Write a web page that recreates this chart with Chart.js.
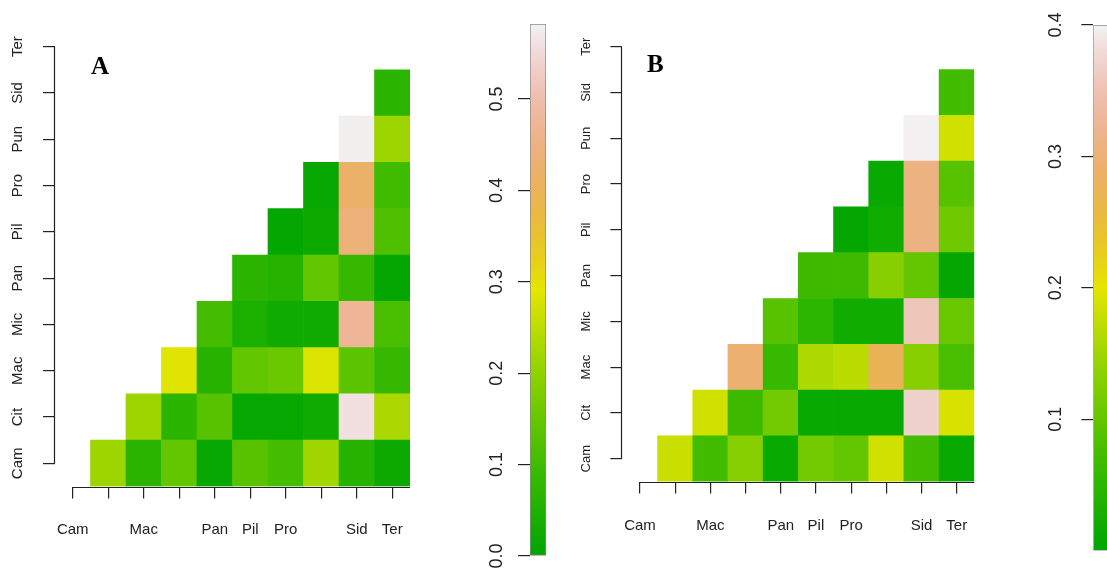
<!DOCTYPE html>
<html>
<head>
<meta charset="utf-8">
<script src="https://cdn.jsdelivr.net/npm/chart.js@4"></script>
<style>
  html, body { margin: 0; padding: 0; background: #fff; overflow: hidden; width: 1107px; height: 569px; }
  canvas { position: absolute; top: 0; }
  .tag { position: absolute; font-family: "Liberation Serif", "Times New Roman", serif; font-weight: bold; font-size: 25px; color: #000; }
</style>
</head>
<body>
<canvas id="heatA" width="420" height="569" style="left:0px"></canvas>
<canvas id="barA" width="86" height="569" style="left:460px"></canvas>
<canvas id="heatB" width="420" height="569" style="left:560px"></canvas>
<canvas id="barB" width="116" height="569" style="left:1000px"></canvas>
<div class="tag" style="left:91px; top:52px">A</div>
<div class="tag" style="left:647px; top:50px">B</div>
<script>
// species, bottom-to-top on y, left-to-right on x
const species = ['Cam', 'Cit', 'Mac', 'Mic', 'Pan', 'Pil', 'Pro', 'Pun', 'Sid', 'Ter'];
// R drops overlapping x labels
const xTickLabels = ['Cam', '', 'Mac', '', 'Pan', 'Pil', 'Pro', '', 'Sid', 'Ter'];

// pairwise distances, row j holds columns j+1 .. 9 (upper triangle)
const distA = [
  [0.215, 0.07, 0.145, 0.01, 0.13, 0.105, 0.22, 0.06, 0.02],
  [0.215, 0.07, 0.13, 0.01, 0.01, 0.025, 0.56, 0.23],
  [0.285, 0.06, 0.145, 0.155, 0.28, 0.135, 0.085],
  [0.105, 0.045, 0.025, 0.025, 0.475, 0.11],
  [0.07, 0.06, 0.145, 0.085, 0.005],
  [0.005, 0.02, 0.44, 0.12],
  [0.01, 0.42, 0.1],
  [0.578, 0.215],
  [0.07]
];
const distB = [
  [0.18, 0.07, 0.13, 0.01, 0.115, 0.1, 0.185, 0.07, 0.01],
  [0.185, 0.065, 0.115, 0.01, 0.01, 0.01, 0.37, 0.19],
  [0.295, 0.06, 0.16, 0.17, 0.275, 0.13, 0.075],
  [0.09, 0.05, 0.02, 0.02, 0.355, 0.105],
  [0.065, 0.065, 0.13, 0.1, 0.005],
  [0.005, 0.02, 0.31, 0.11],
  [0.01, 0.31, 0.09],
  [0.398, 0.185],
  [0.07]
];

const maxA = 0.582;
const maxB = 0.4;
const barTicksA = [0, 0.1, 0.2, 0.3, 0.4, 0.5];
const barTicksB = [0.1, 0.2, 0.3, 0.4];

// R terrain.colors, t in [0, 1]
function terrain(t) {
  t = Math.max(0, Math.min(1, t));
  let h, s, v;
  if (t < 0.5) { const u = t * 2; h = 120 - 60 * u; s = 1; v = 0.65 + 0.25 * u; }
  else { const u = t * 2 - 1; h = 60 - 60 * u; s = 1 - u; v = 0.9 + 0.05 * u; }
  const f = (n) => {
    const k = (n + h / 60) % 6;
    return Math.round(255 * (v - v * s * Math.max(0, Math.min(k, 4 - k, 1))));
  };
  return `rgb(${f(5)},${f(3)},${f(1)})`;
}

// keep label overhang from shrinking the plot area
const noPad = (s) => { s.paddingLeft = 0; s.paddingRight = 0; s.paddingTop = 0; s.paddingBottom = 0; };

// R style axis lines: y from first to last tick, x from first tick to the edge
const rAxisLines = {
  id: 'rAxisLines',
  afterDraw(chart) {
    const { ctx, chartArea, scales: { x, y } } = chart;
    ctx.save();
    ctx.strokeStyle = '#222';
    ctx.lineWidth = 1.2;
    ctx.beginPath();
    const xl = Math.round(chartArea.left) - 0.5;
    ctx.moveTo(xl, y.getPixelForValue(0));
    ctx.lineTo(xl, y.getPixelForValue(species.length - 1));
    const yb = Math.round(chartArea.bottom) + 0.5;
    ctx.moveTo(x.getPixelForValue(0), yb);
    ctx.lineTo(chartArea.right, yb);
    ctx.stroke();
    ctx.restore();
  }
};

function heatmap(id, dist, max, o) {
  const datasets = dist.map((row, j) => ({
    data: species.map((_, i) => i > j ? [j - 0.5, j + 0.5] : null),
    backgroundColor: species.map((_, i) => i > j ? terrain(row[i - j - 1] / max) : 'transparent'),
    borderWidth: 0,
    barPercentage: 1,
    categoryPercentage: 1,
    grouped: false
  }));
  const tickGrid = { drawOnChartArea: false, offset: false, color: '#222', lineWidth: 1.2, tickLength: 12 };
  new Chart(document.getElementById(id), {
    type: 'bar',
    data: { labels: species, datasets },
    plugins: [rAxisLines],
    options: {
      responsive: false,
      animation: false,
      events: [],
      layout: { padding: { top: o.top, right: o.right, left: 0, bottom: 0 } },
      plugins: { legend: { display: false }, tooltip: { enabled: false } },
      scales: {
        x: {
          type: 'category',
          offset: true,
          grid: tickGrid,
          border: { display: false },
          ticks: {
            autoSkip: false, maxRotation: 0, padding: o.xPad, color: '#222',
            font: { family: 'Liberation Sans, Arial', size: o.xFont },
            callback: (v, i) => xTickLabels[i]
          },
          afterFit: (s) => { s.height = o.xHeight; noPad(s); }
        },
        y: {
          type: 'linear',
          min: -0.5,
          max: species.length - 0.5,
          grid: tickGrid,
          border: { display: false },
          afterBuildTicks: (s) => { s.ticks = species.map((_, j) => ({ value: j })); },
          ticks: {
            minRotation: 90, maxRotation: 90, crossAlign: 'center', padding: o.yPad, color: '#222',
            font: { family: 'Liberation Sans, Arial', size: o.yFont },
            callback: (v) => species[v]
          },
          afterFit: (s) => { s.width = o.yWidth; noPad(s); }
        }
      }
    }
  });
}

function colorbar(id, max, tickVals, o) {
  new Chart(document.getElementById(id), {
    type: 'bar',
    data: {
      labels: [''],
      datasets: [{
        data: [[0, max]],
        backgroundColor: (c) => {
          const chart = c.chart;
          if (!chart.chartArea) return '#fff';
          const y = chart.scales.y;
          const g = chart.ctx.createLinearGradient(0, y.getPixelForValue(0), 0, y.getPixelForValue(max));
          for (let k = 0; k <= 40; k++) g.addColorStop(k / 40, terrain(k / 40));
          return g;
        },
        borderColor: '#8a8a8a',
        borderWidth: 1,
        borderSkipped: false,
        barPercentage: 1,
        categoryPercentage: 1
      }]
    },
    options: {
      responsive: false,
      animation: false,
      events: [],
      layout: { padding: { top: o.top, bottom: o.bottom, left: 0, right: 0 } },
      plugins: { legend: { display: false }, tooltip: { enabled: false } },
      scales: {
        x: { display: false },
        y: {
          min: 0,
          max: max,
          grid: { drawOnChartArea: false, color: '#222', lineWidth: 1.2, tickLength: 12 },
          border: { display: false },
          afterBuildTicks: (s) => { s.ticks = tickVals.map((v) => ({ value: v })); },
          ticks: {
            minRotation: 90, maxRotation: 90, crossAlign: 'center', padding: o.pad, color: '#222',
            font: { family: 'Liberation Sans, Arial', size: 18 },
            callback: (v) => v.toFixed(1)
          },
          afterFit: (s) => { s.width = o.yWidth; noPad(s); }
        }
      }
    }
  });
}

heatmap('heatA', distA, maxA, { top: 23.5, right: 10, xHeight: 82.5, yWidth: 55, xPad: 22, yPad: 9, xFont: 15, yFont: 15 });
heatmap('heatB', distB, maxB, { top: 23.8, right: 5.7, xHeight: 87.4, yWidth: 62.4, xPad: 23, yPad: 10, xFont: 15, yFont: 13 });
colorbar('barA', maxA, barTicksA, { top: 24, bottom: 13, yWidth: 70, pad: 8 });
colorbar('barB', maxB, barTicksB, { top: 25, bottom: 18.4, yWidth: 93.3, pad: 13 });
</script>
</body>
</html>
